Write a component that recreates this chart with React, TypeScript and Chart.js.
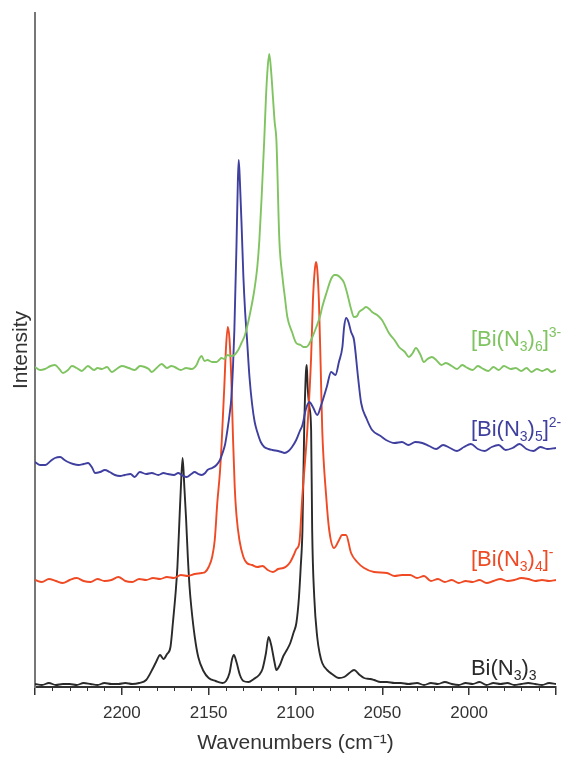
import React, { useEffect, useRef } from "react";
import { Chart, registerables } from "chart.js";

Chart.register(...registerables);

// ---- Data (wavenumber in cm-1, intensity in arbitrary units, offset traces) ----
const bi3X = [2250,2246,2242,2238,2234,2230,2226,2222,2218,2214,2210,2206,2202,2198,2194,2190,
  2186,2182,2180,2178,2176,2174,2172,2170.5,2169,2168,2167,2166,2165,2164,2163,2162,2161,2160,2158,2156,2153,2150,
  2146,2142,2140,2138,2136.5,2135.5,2134,2132,2130,2127,2124,2121,2119,2117,2115.5,2114,2112,2111,2109,2107,2105,2103,2101,2099.5,2098,2097,2096,2095,2094,2093.5,2093,2092,2091,2090.4,2089.2,2087.5,2086,2084.6,2081.8,2079,2075,2072,2069,2066.3,2063,2060.5,2057,2054.8,2051,2047.3,2043,2039.3,
  2035,2030,2026,2022,2018,2014,2010,2006,2002,1998,1994,1990,1986,1982,1978,1974,1970,1966,1962,1958,1954,1950];
const bi3Y = [3,2,4,2,3,3,2,4,3,2,4,3,3,4,3,4,
  7,19,26,32,28,33,40,66,95,120,160,200,229,200,168,130,100,80,50,30,16,9,
  6,4,6,14,28,32,25,12,6,5,8,12,18,34,50,42,24,17,22,31,37,44,55,64,90,120,157,257,315,322,300,280,257,157,90,50,33,24,17,13,9,10,14,17,12,9,8,7,5,5,4,4,
  3,4,2,4,3,5,3,2,4,3,5,2,4,3,4,2,3,4,3,2,4,3];

const bi4X = [2250,2246,2242,2238,2234,2230,2226,2222,2218,2214,2210,2206,2202,2198,2194,2190,2186,2182,2178,2174,2170,2166,2162,2158,2154,
  2152,2150,2148,2146.5,2145,2143.5,2142.5,2141,2140,2139,2138,2137,2136,2135,2134,2132.3,2130,2128,2125,2122,2119,2116,2113,2110,2107,2105,2103,2101,2099.5,2097.8,2096.1,2093.2,2091,2090,2089,2088.2,2087.5,2086.5,2085.5,2084.6,2082.3,2080.6,2077.8,2074.9,2073.2,2070.9,2068,2064.5,2060.5,2054.8,2047.3,2043,2038.7,
  2034,2030,2026,2022,2018,2014,2010,2006,2002,1998,1994,1990,1986,1982,1978,1974,1970,1966,1962,1958,1954,1950];
const bi4Y = [107,105,108,106,104,107,109,106,105,108,106,107,110,106,105,108,107,109,108,110,109,112,111,113,114,
  115,120,130,147,185,215,245,300,340,360,348,310,250,200,172,147,130,124,122,120,121,117,115,118,119,121,125,132,138,144,190,257,330,385,415,425,418,385,320,257,190,157,139,147,152,152,134,125,119,115,114,111,112,
  112,109,111,106,108,105,107,104,106,105,107,104,106,108,106,107,109,108,106,107,106,107];

const bi5X = [2250,2247,2244,2241,2238.5,2235.5,2233,2231,2228,2225,2222,2219.5,2217,2215.5,2212.5,2209.8,2207,2204,2201,2198.3,2195,2192.6,2189.7,2186,2182.8,2179,2176,2173.6,2170,2167.5,2165.6,2162.7,2160,2158.1,2156,2154.1,2152,2150.7,2148,2145.5,2143.5,2142,2140.5,2139.2,2138,2136.9,2136,2135.2,2134,2133.2,2132.7,2132,2131,2130,2129,2128,2126.5,2125,2123.5,2122,2120,2118,2115.5,2113.3,2110,2108,2106.4,2104,2102,2099.6,2097.5,2096,2094,2092,2090,2087.5,2085,2082,2079.5,2077,2075,2073,2072,2070.8,2069.5,2068,2066.3,2064,2062.2,2059,2055.9,2051,2047.9,2043,2038.7,2035,2031,2027,2023,2019,2015,2011,2007,2003,1999,1995,1991,1987,1983,1979,1975,1971,1967,1963,1959,1955,1950];
const bi5Y = [225,222,222,226,229,230,227,225,223,222,223,224,219,214,215,217,215,212,211,212,213,210,215,213,214,212,214,213,212,214,212,210,213,215,213,212,214,217,219,222,227,234,243,257,272,290,320,357,440,505,527,505,460,410,375,350,310,283,265,255,245,240,238,237,236,235,234,236,240,247,256,262,278,285,280,272,283,300,315,312,325,340,360,369,365,355,347,310,284,268,257,251,247,244,245,242,245,244,241,238,242,239,236,240,243,238,236,240,242,237,239,243,238,236,240,238,239];

const bi6X = [2250,2247,2244.3,2241,2238.5,2236,2233.9,2231,2228.8,2226,2223,2221,2219.6,2216,2214,2211.5,2208.5,2205.8,2203,2200,2196,2192.6,2189.5,2186.8,2184.5,2182.8,2180,2177.1,2174,2171.5,2169.6,2166,2163,2159.8,2157,2155.5,2154.1,2152.4,2150.7,2148,2145.5,2144,2142.6,2141,2139.2,2137,2135.2,2133,2131.1,2129.5,2128.3,2126,2123.7,2122,2120.8,2119.5,2118,2117,2116,2115.1,2114,2113,2112,2111,2109.3,2107.5,2106,2104.7,2102,2099.6,2097,2095.5,2093.8,2092.5,2091,2088,2086,2084.6,2082,2079.5,2077.5,2076.6,2074.5,2072,2070,2068,2066.3,2064.5,2063.4,2061,2059.4,2057.5,2055.9,2053,2050.2,2048,2046.2,2043,2040.4,2037,2034.7,2032.5,2030.7,2028,2026.1,2024,2021.5,2019,2016,2013.4,2010,2007,2004,2001.9,1998,1995,1992.8,1989,1986,1983,1980,1976,1973.2,1970,1967,1964.1,1961,1958,1955,1952.6,1950];
const bi6Y = [320,317,318,321,322,318,314,317,321,319,316,319,321,317,319,318,320,315,318,321,319,317,321,320,318,315,319,323,319,321,320,317,319,318,322,328,331,326,327,325,325,327,329,328,332,331,332,337,344,350,357,375,397,420,447,490,547,590,620,633,615,590,565,547,447,410,388,370,355,344,342,340,340,342,347,360,370,380,395,408,412,412,410,404,392,378,370,371,375,378,380,378,375,372,367,360,354,347,340,335,330,334,339,332,325,328,330,327,322,324,321,318,322,320,317,321,319,316,320,317,321,318,319,316,319,315,318,316,318,315,317];

const seriesNames = ["Bi(N3)3", "[Bi(N3)4]-", "[Bi(N3)5]2-", "[Bi(N3)6]3-"];
const seriesColors = ["#2a2a2a", "#ef4a24", "#3f3f9f", "#80c462"];
const xTickValues = [2200, 2150, 2100, 2050, 2000];

const FONT = '"Liberation Sans", Arial, Helvetica, sans-serif';

type Part = { t: string; k: "n" | "sub" | "sup" };
const labelParts: Part[][] = [
  [{ t: "Bi(N", k: "n" }, { t: "3", k: "sub" }, { t: ")", k: "n" }, { t: "3", k: "sub" }],
  [{ t: "[Bi(N", k: "n" }, { t: "3", k: "sub" }, { t: ")", k: "n" }, { t: "4", k: "sub" }, { t: "]", k: "n" }, { t: "-", k: "sup" }],
  [{ t: "[Bi(N", k: "n" }, { t: "3", k: "sub" }, { t: ")", k: "n" }, { t: "5", k: "sub" }, { t: "]", k: "n" }, { t: "2-", k: "sup" }],
  [{ t: "[Bi(N", k: "n" }, { t: "3", k: "sub" }, { t: ")", k: "n" }, { t: "6", k: "sub" }, { t: "]", k: "n" }, { t: "3-", k: "sup" }],
];
// label anchor: [wavenumber of left edge, intensity of baseline]
const labelAnchors = [[1999, 12], [1999, 121], [1999, 251], [1999, 341]];

function zip(xs: number[], ys: number[]) {
  return xs.map((x, i) => ({ x, y: ys[i] }));
}

const minorTicks = {
  id: "minorTicks",
  afterDraw(chart: any) {
    const sx = chart.scales.x;
    const ctx = chart.ctx;
    const y0 = chart.chartArea.bottom;
    ctx.save();
    ctx.strokeStyle = "#333";
    ctx.lineWidth = 1;
    for (let v = 1960; v < 2250; v += 10) {
      if (v % 50 === 0) continue;
      const px = Math.round(sx.getPixelForValue(v)) + 0.5;
      ctx.beginPath();
      ctx.moveTo(px, y0);
      ctx.lineTo(px, y0 + 4);
      ctx.stroke();
    }
    ctx.restore();
  },
};

const seriesLabels = {
  id: "seriesLabels",
  afterDraw(chart: any) {
    const ctx = chart.ctx;
    const sx = chart.scales.x;
    const sy = chart.scales.y;
    const size = 22;
    ctx.save();
    ctx.textBaseline = "alphabetic";
    ctx.textAlign = "left";
    labelParts.forEach((parts, i) => {
      let cx = sx.getPixelForValue(labelAnchors[i][0]);
      const by = sy.getPixelForValue(labelAnchors[i][1]);
      ctx.fillStyle = seriesColors[i];
      for (const p of parts) {
        const sz = p.k === "n" ? size : 14;
        ctx.font = `${sz}px ${FONT}`;
        const dy = p.k === "sub" ? 5 : p.k === "sup" ? -9 : 0;
        ctx.fillText(p.t, cx, by + dy);
        cx += ctx.measureText(p.t).width;
      }
    });
    ctx.restore();
  },
};

export default function App() {
  const ref = useRef<HTMLCanvasElement | null>(null);
  useEffect(() => {
    if (!ref.current) return;
    const datasets = [
      zip(bi6X, bi6Y),
      zip(bi5X, bi5Y),
      zip(bi4X, bi4Y),
      zip(bi3X, bi3Y),
    ].map((data, j) => {
      const i = 3 - j;
      return {
        label: seriesNames[i],
        data,
        borderColor: seriesColors[i],
        borderWidth: 1.9,
        pointRadius: 0,
        fill: false,
        cubicInterpolationMode: "monotone" as const,
      };
    });
    const chart = new Chart(ref.current, {
      type: "line",
      data: { datasets },
      options: {
        responsive: false,
        animation: false,
        layout: { padding: { left: 0, right: 5, top: 13, bottom: 0 } },
        plugins: { legend: { display: false }, tooltip: { enabled: false } },
        scales: {
          x: {
            type: "linear",
            reverse: true,
            min: 1950,
            max: 2250,
            afterFit: (s: any) => { s.height = 70; s.paddingRight = 0; s.paddingLeft = 0; },
            afterBuildTicks: (s: any) => {
              const t = [2250, ...xTickValues, 1950];
              s.ticks = t.map((v) => ({ value: v }));
            },
            ticks: {
              autoSkip: false,
              maxRotation: 0,
              padding: 8,
              color: "#333",
              font: { size: 17, family: FONT },
              callback: (v: any) => (xTickValues.includes(Number(v)) ? String(v) : ""),
            },
            grid: { drawOnChartArea: false, tickLength: 8, color: "#333", lineWidth: 1.5 },
            border: { color: "#333", width: 2 },
            title: {
              display: true,
              text: "Wavenumbers (cm⁻¹)",
              color: "#333",
              font: { size: 21, family: FONT },
              padding: { top: 0, bottom: 1 },
            },
          },
          y: {
            min: 0,
            max: 674,
            afterFit: (s: any) => { s.width = 35; },
            ticks: { display: false },
            grid: { display: false },
            border: { color: "#777", width: 2 },
            title: {
              display: true,
              text: "Intensity",
              color: "#333",
              font: { size: 21, family: FONT },
              padding: { top: 9, bottom: 0 },
            },
          },
        },
      },
      plugins: [minorTicks, seriesLabels],
    } as any);
    return () => chart.destroy();
  }, []);
  return (
    <div style={{ position: "fixed", left: 0, top: 0, width: 561, height: 757, background: "#fff" }}>
      <canvas ref={ref} width={561} height={757} style={{ display: "block" }} />
    </div>
  );
}
